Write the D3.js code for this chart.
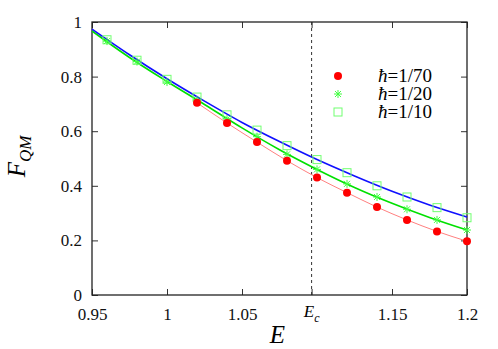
<!DOCTYPE html>
<html>
<head>
<meta charset="utf-8">
<script src="https://cdn.jsdelivr.net/npm/d3@7"></script>
</head>
<body style="margin:0;background:#fff">
<div class="container"></div>
<script>
"use strict";

// data
const eRed = [1.02, 1.04, 1.06, 1.08, 1.10, 1.12, 1.14, 1.16, 1.18, 1.20];
const fRed = [0.704, 0.630, 0.560, 0.492, 0.430, 0.375, 0.322, 0.275, 0.233, 0.197];

const eSym = [0.96, 0.98, 1.00, 1.02, 1.04, 1.06, 1.08, 1.10, 1.12, 1.14, 1.16, 1.18, 1.20];
const fStar = [0.930, 0.855, 0.780, 0.715, 0.645, 0.580, 0.515, 0.460, 0.407, 0.359, 0.314, 0.275, 0.238];
const fSquare = [0.935, 0.860, 0.790, 0.725, 0.660, 0.604, 0.547, 0.496, 0.448, 0.400, 0.359, 0.320, 0.283];

const eCurve = [0.95, 0.975, 1.0, 1.025, 1.05, 1.075, 1.1, 1.125, 1.15, 1.175, 1.2];
const fBlue = [0.974, 0.880, 0.792, 0.710, 0.632, 0.562, 0.496, 0.436, 0.380, 0.330, 0.286];
const fGreen = [0.967, 0.870, 0.782, 0.698, 0.612, 0.532, 0.460, 0.394, 0.336, 0.284, 0.238];

const eC = 1.0964;
const xTicks = [0.95, 1, 1.05, 1.15, 1.2];
const yTicks = [0, 0.2, 0.4, 0.6, 0.8, 1];
const legendLabels = ["1/70", "1/20", "1/10"];

const FONT = "Liberation Serif";

const makePlot = () => {
  const margin = { top: 22, left: 92, right: 31, bottom: 54 };
  const W = 498, H = 349;
  const width = W - margin.left - margin.right;
  const height = H - margin.top - margin.bottom;

  const x = d3.scaleLinear().domain([0.95, 1.2]).range([0, width]);
  const y = d3.scaleLinear().domain([0, 1]).range([height, 0]);

  const root = d3.select(".container").append("svg")
    .attr("width", W).attr("height", H)
    .attr("font-family", FONT);
  const svg = root.append("g")
    .attr("transform", "translate(" + margin.left + "," + margin.top + ")");

  const allX = xTicks.concat([eC]);
  const fmtX = (d) => d3.format("")(+d.toFixed(2));

  // axes, ticks inward
  const xB = svg.append("g").attr("transform", "translate(0," + height + ")")
    .call(d3.axisBottom(x).tickValues(allX).tickSize(-6).tickPadding(10)
      .tickFormat((d) => (d === eC ? "" : fmtX(d))));
  const xT = svg.append("g")
    .call(d3.axisTop(x).tickValues(allX).tickSize(-6).tickFormat(""));
  const yL = svg.append("g")
    .call(d3.axisLeft(y).tickValues(yTicks).tickSize(-6).tickPadding(10)
      .tickFormat(d3.format("")));
  const yR = svg.append("g").attr("transform", "translate(" + width + ",0)")
    .call(d3.axisRight(y).tickValues(yTicks).tickSize(-6).tickFormat(""));

  [xB, xT, yL, yR].forEach((g) => {
    g.attr("font-family", FONT).attr("font-size", 17);
    g.select(".domain").remove();
    g.selectAll("line").attr("stroke", "#333");
    g.selectAll("text").attr("fill", "#111");
  });
  xB.selectAll("text").attr("dy", "0.9em");

  // Ec label
  const ec = svg.append("text").attr("x", x(eC)).attr("y", height + 22)
    .attr("text-anchor", "middle").attr("font-size", 17)
    .attr("font-style", "italic");
  ec.append("tspan").text("E");
  ec.append("tspan").attr("dy", 5).attr("font-size", 12).text("c");

  // dashed line at Ec
  svg.append("line")
    .attr("x1", x(eC)).attr("x2", x(eC)).attr("y1", 0).attr("y2", height)
    .attr("stroke", "#333").attr("stroke-dasharray", "3,3").attr("stroke-width", 1);

  // frame
  svg.append("rect").attr("width", width).attr("height", height)
    .attr("fill", "none").attr("stroke", "#222").attr("stroke-width", 1.3);

  // curves
  const line = d3.line().x((d) => x(d[0])).y((d) => y(d[1])).curve(d3.curveMonotoneX);
  svg.append("path").datum(eRed.map((e, i) => [e, fRed[i]]))
    .attr("d", line).attr("fill", "none").attr("stroke", "#ff8080").attr("stroke-width", 1);
  svg.append("path").datum(eCurve.map((e, i) => [e, fGreen[i]]))
    .attr("d", line).attr("fill", "none").attr("stroke", "#00e000").attr("stroke-width", 1.6);
  svg.append("path").datum(eCurve.map((e, i) => [e, fBlue[i]]))
    .attr("d", line).attr("fill", "none").attr("stroke", "#1010ff").attr("stroke-width", 1.6);

  const star = (g, cx, cy, r) => {
    const p = "M" + (cx - r) + "," + cy + "h" + 2 * r +
      "M" + cx + "," + (cy - r) + "v" + 2 * r +
      "M" + (cx - r * 0.75) + "," + (cy - r * 0.75) + "l" + 1.5 * r + "," + 1.5 * r +
      "M" + (cx - r * 0.75) + "," + (cy + r * 0.75) + "l" + 1.5 * r + "," + -1.5 * r;
    g.append("path").attr("d", p).attr("stroke", "#40ff40").attr("stroke-width", 1).attr("fill", "none");
  };

  // markers
  svg.append("g").selectAll("rect").data(eSym.map((e, i) => [e, fSquare[i]])).enter()
    .append("rect")
    .attr("x", (d) => x(d[0]) - 4).attr("y", (d) => y(d[1]) - 4)
    .attr("width", 8).attr("height", 8)
    .attr("fill", "none").attr("stroke", "#70ff70").attr("stroke-width", 1);
  const starG = svg.append("g");
  eSym.forEach((e, i) => star(starG, x(e), y(fStar[i]), 4));
  svg.append("g").selectAll("circle").data(eRed.map((e, i) => [e, fRed[i]])).enter()
    .append("circle")
    .attr("cx", (d) => x(d[0])).attr("cy", (d) => y(d[1])).attr("r", 4)
    .attr("fill", "#ff0000");

  // legend
  const lg = svg.append("g").attr("transform", "translate(246,54)");
  lg.append("circle").attr("cx", 0).attr("cy", 0).attr("r", 4).attr("fill", "#ff0000");
  star(lg, 0, 18, 4);
  lg.append("rect").attr("x", -4).attr("y", 32).attr("width", 8).attr("height", 8)
    .attr("fill", "none").attr("stroke", "#70ff70");
  legendLabels.forEach((t, i) => {
    const tx = lg.append("text").attr("x", 94).attr("y", i * 18.2 + 6)
      .attr("text-anchor", "end").attr("font-size", 19);
    tx.append("tspan").attr("font-style", "italic").text("ħ");
    tx.append("tspan").text("=" + t);
  });

  // axis titles
  svg.append("text").attr("x", x(1.075) - 2).attr("y", height + 48)
    .attr("text-anchor", "middle").attr("font-size", 25).attr("font-style", "italic").text("E");

  const fy = svg.append("text")
    .attr("transform", "translate(" + (-67) + "," + (height / 2 - 2) + ") rotate(-90)")
    .attr("text-anchor", "middle").attr("font-size", 25).attr("font-style", "italic");
  fy.append("tspan").text("F");
  fy.append("tspan").attr("dy", 6).attr("font-size", 17).text("QM");

  // make sure every text uses the serif face
  root.selectAll("text, tspan").attr("font-family", FONT);
};

makePlot();
</script>
</body>
</html>
